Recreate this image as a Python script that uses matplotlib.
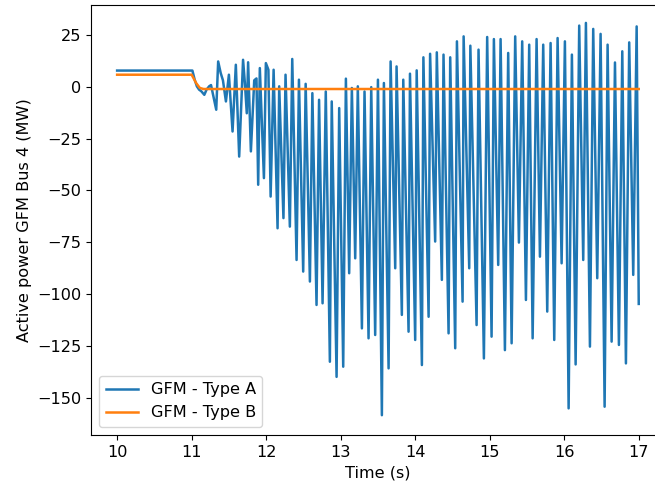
import matplotlib
matplotlib.use("Agg")
import matplotlib.pyplot as plt

plt.rcParams['font.size'] = 11.6

# GFM - Type A : extremes (time s, power MW)
t_a = [10.0, 11.01, 11.04, 11.07, 11.10, 11.13, 11.17, 11.20, 11.235, 11.26,
       11.33, 11.356, 11.39, 11.42, 11.46, 11.50, 11.549, 11.593, 11.638, 11.69,
       11.715, 11.74, 11.758, 11.795, 11.84, 11.87, 11.893, 11.915, 11.97, 11.996,
       12.03, 12.06, 12.10, 12.153, 12.175,
       12.232, 12.26, 12.318, 12.35, 12.408, 12.44, 12.497, 12.53, 12.587, 12.62,
       12.676, 12.71, 12.757, 12.80, 12.855, 12.88, 12.945, 12.98, 13.034, 13.07,
       13.114, 13.15, 13.195, 13.23, 13.285, 13.32, 13.374, 13.41, 13.463, 13.50,
       13.553, 13.58, 13.643, 13.67, 13.732, 13.75, 13.821, 13.84, 13.911, 13.93,
       14.0, 14.02, 14.09, 14.11, 14.18, 14.20, 14.268, 14.29, 14.358, 14.38,
       14.448, 14.47, 14.537, 14.56, 14.636, 14.65, 14.725, 14.74, 14.824, 14.85,
       14.922, 14.966, 15.025, 15.056, 15.114, 15.146, 15.204, 15.248, 15.294, 15.342,
       15.392, 15.436, 15.486, 15.530, 15.576, 15.629, 15.674, 15.718, 15.772, 15.817,
       15.866, 15.911, 15.965, 16.009, 16.059, 16.103, 16.153, 16.201, 16.255, 16.291,
       16.345, 16.389, 16.443, 16.488, 16.542, 16.582, 16.636, 16.681, 16.734, 16.779,
       16.828, 16.872, 16.926, 16.972, 17.0]
p_a = [7.8, 7.8, 3.5, 0.2, -1.4, -2.2, -3.9, -1.4, 0.2, 0.8,
       -11.1, 12.2, 6.6, 3.1, -7.1, 5.8, -21.6, 10.6, -33.7, 13.0,
       1.5, -12.8, 11.8, -31.2, 3.1, 4.0, -47.3, 9.0, -44.1, 11.4,
       8.2, -53.0, 8.2, -68.3, 0.2,
       -63.4, 5.8, -67.5, 13.4, -83.6, 3.4, -89.2, 1.4, -94.0, -3.1,
       -105.3, -6.3, -104.5, -2.3, -132.7, -7.1, -140.0, -10.3, -135.1, 3.9,
       -90.0, -0.6, -82.8, 0.2, -116.6, -2.3, -121.4, -0.2, -119.8, 3.4,
       -158.5, 1.8, -135.9, 12.2, -87.6, 9.8, -110.1, 3.4, -118.2, 6.3,
       -122.2, 7.9, -134.3, 14.2, -111.0, 15.9, -74.7, 16.6, -93.2, 15.5,
       -119.0, 14.2, -126.2, 21.9, -103.7, 24.3, -87.6, 19.8, -115.0, 17.9,
       -131.1, 24.0, -120.6, 23.0, -86.0, 23.0, -127.1, 16.3, -123.8, 24.3,
       -75.2, 21.9, -102.9, 20.3, -121.4, 23.0, -82.0, 20.3, -108.5, 21.1,
       -122.2, 23.5, -85.2, 21.9, -155.2, 15.5, -134.0, 29.5, -83.6, 30.8,
       -125.4, 27.9, -92.4, 25.5, -154.4, 20.3, -123.0, 11.7, -124.6, 17.1,
       -133.5, 21.4, -90.8, 29.1, -104.8]

# GFM - Type B
t_b = [10.0, 11.0, 11.06, 11.11, 11.16, 17.0]
p_b = [5.8, 5.8, 1.8, -0.6, -1.1, -1.1]

fig = plt.figure(figsize=(6.55, 4.87), dpi=100)
ax = fig.add_axes([0.139, 0.107, 0.876, 0.883])

ax.plot(t_a, p_a, label='GFM - Type A', linewidth=1.8)
ax.plot(t_b, p_b, label='GFM - Type B', linewidth=1.8)

ax.set_xlim(9.65, 17.35)
ax.set_ylim(-168, 39.5)
ax.set_xticks([10, 11, 12, 13, 14, 15, 16, 17])
ax.set_yticks([25, 0, -25, -50, -75, -100, -125, -150])
ax.set_xlabel('Time (s)')
ax.set_ylabel('Active power GFM Bus 4 (MW)')
ax.legend(loc='lower left')

fig.savefig('out.png', dpi=100)
